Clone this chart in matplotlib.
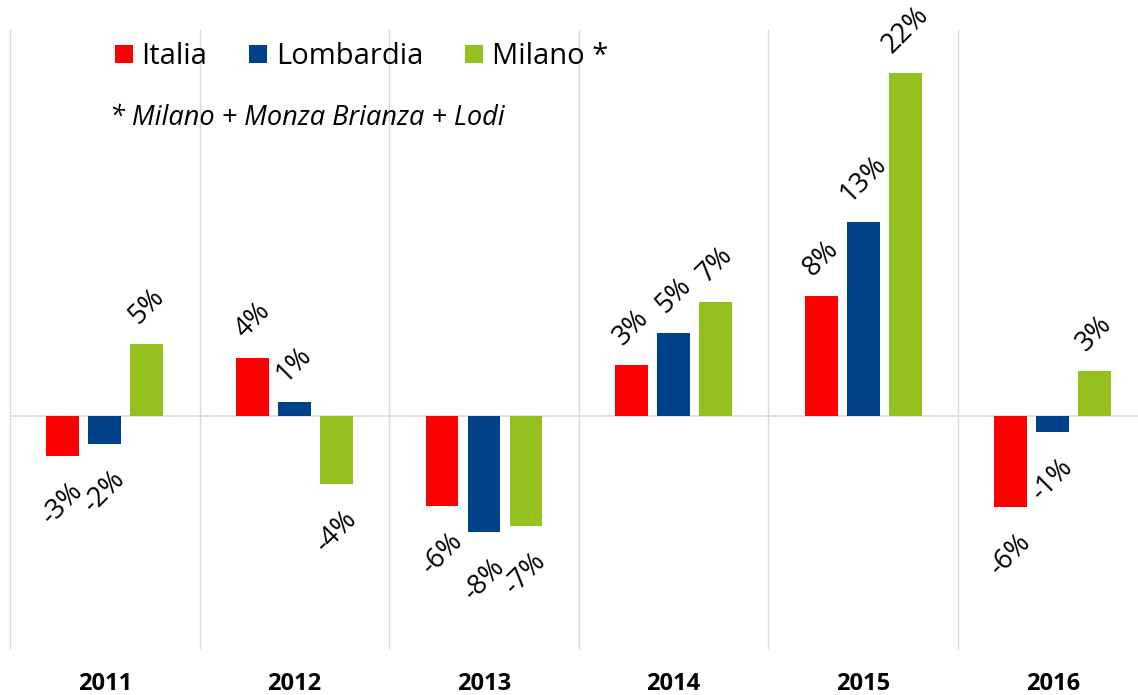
import matplotlib
matplotlib.use("Agg")
import matplotlib.pyplot as plt
from matplotlib.patches import Patch
import numpy as np

# dati (variazione % annua)
anni = ["2011", "2012", "2013", "2014", "2015", "2016"]
serie = ["Italia", "Lombardia", "Milano *"]
italia = [-2.6, 3.75, -5.8, 3.3, 7.8, -5.9]
lombardia = [-1.8, 0.9, -7.5, 5.4, 12.6, -1.0]
milano = [4.7, -4.4, -7.1, 7.4, 22.2, 2.9]
colori = ["#FF0000", "#00428A", "#95C11F"]
nota = "* Milano + Monza Brianza + Lodi"

plt.rcParams['font.family'] = ['Open Sans', 'DejaVu Sans']

W, H = 1138, 695
fig = plt.figure(figsize=(W / 100, H / 100), dpi=100)
# area del grafico in pixel: da x=10, larghezza 6 categorie da 189.6 px, y da 30 a 648
ax = fig.add_axes([10 / W, (H - 648) / H, 6 * 189.6 / W, 618 / H])

x = np.arange(len(anni))
passo = 0.2215
larghezza = 0.174

for i, (valori, colore) in enumerate(zip([italia, lombardia, milano], colori)):
    pos = x + (i - 1) * passo
    ax.bar(pos, valori, width=larghezza, color=colore, zorder=3)
    for px, v in zip(pos, valori):
        testo = "%d%%" % round(v)
        if v >= 0:
            ax.annotate(testo, (px, v), xytext=(0, 14), textcoords='offset pixels',
                        rotation=45, ha='center', va='bottom', fontsize=19.5, color='black')
        else:
            ax.annotate(testo, (px, v), xytext=(0, -21), textcoords='offset pixels',
                        rotation=45, ha='center', va='top', fontsize=19.5, color='black')

ax.set_xlim(-0.5, 5.5)
ax.set_ylim(-15, 25)

# linee tra le categorie e linea dello zero
for b in np.arange(-0.5, 6, 1):
    ax.axvline(b, color='#D9D9D9', lw=1, zorder=1, clip_on=False)
ax.axhline(0, color='#D9D9D9', lw=1.2, zorder=2)

for s in ax.spines.values():
    s.set_visible(False)
ax.set_yticks([])
ax.set_xticks(x)
ax.set_xticklabels(anni, fontsize=17, fontweight='bold')
ax.tick_params(axis='x', length=0, pad=17)

# legenda
handles = [Patch(facecolor=c, edgecolor='none') for c in colori]
leg = fig.legend(handles, serie, loc='center left',
                 bbox_to_anchor=(115 / W, 1 - 57 / H), ncol=3, frameon=False,
                 fontsize=21, handlelength=0.6, handleheight=0.6,
                 handletextpad=0.3, columnspacing=1.45, borderpad=0, borderaxespad=0)

fig.text(110 / W, 1 - 118 / H, nota, fontsize=19.5, style='italic',
         ha='left', va='center')

fig.savefig("out.png", dpi=100)
